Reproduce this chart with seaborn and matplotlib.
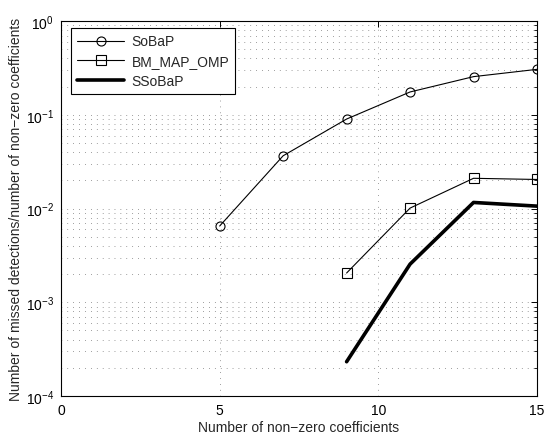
import numpy as np
import matplotlib
matplotlib.use("Agg")
import matplotlib.pyplot as plt
import seaborn as sns
from matplotlib.ticker import LogLocator, FixedLocator

# datos
k_sobap = [5, 7, 9, 11, 13, 15]
sobap = [0.0065, 0.0365, 0.090, 0.175, 0.255, 0.305]

k_bm = [9, 11, 13, 15]
bm_map_omp = [0.00205, 0.0101, 0.0210, 0.0204]

k_ssobap = [9, 11, 13, 15]
ssobap = [0.000232, 0.00255, 0.0116, 0.0106]

x_ticks = [0, 5, 10, 15]

sns.set_style("white")
plt.rcParams['font.family'] = ['Liberation Sans', 'DejaVu Sans']
plt.rcParams['mathtext.fontset'] = 'custom'
plt.rcParams['mathtext.rm'] = 'Liberation Sans'
plt.rcParams['mathtext.it'] = 'Liberation Sans'

fig = plt.figure(figsize=(5.44, 4.35), dpi=100)
ax = fig.add_axes([61 / 544, 1 - 397 / 435, 476 / 544, 375 / 435])

sns.lineplot(x=k_sobap, y=sobap, ax=ax, color='black', lw=0.8, marker='o',
             markersize=6.5, markerfacecolor='none', markeredgecolor='black',
             markeredgewidth=0.8, label='SoBaP')
sns.lineplot(x=k_bm, y=bm_map_omp, ax=ax, color='black', lw=0.8, marker='s',
             markersize=6.5, markerfacecolor='none', markeredgecolor='black',
             markeredgewidth=0.8, label='BM_MAP_OMP')
sns.lineplot(x=k_ssobap, y=ssobap, ax=ax, color='black', lw=2.6,
             label='SSoBaP')

ax.set_yscale('log')
ax.set_xlim(0, 15)
ax.set_ylim(1e-4, 1)
ax.xaxis.set_major_locator(FixedLocator(x_ticks))
ax.yaxis.set_major_locator(LogLocator(base=10, numticks=10))
ax.yaxis.set_minor_locator(LogLocator(base=10, subs=np.arange(2, 10), numticks=10))

dots = (0, (1, 7.5))
ax.grid(True, which='major', axis='both', color='#444444', ls=dots, lw=0.5)
ax.grid(True, which='minor', axis='y', color='#444444', ls=dots, lw=0.5)

ax.tick_params(which='both', direction='in', top=True, right=True,
               labelsize=10, colors='black')
ax.tick_params(which='major', length=4, width=0.7, pad=5)
ax.tick_params(which='minor', length=2, width=0.6)
for s in ax.spines.values():
    s.set_color('black')
    s.set_linewidth(0.8)

ax.set_xlabel('Number of non\u2212zero coefficients', fontsize=10, labelpad=2)
ax.set_ylabel('Number of missed detections/number of non\u2212zero coefficients',
              fontsize=10, labelpad=2)

leg = ax.legend(loc='upper left', bbox_to_anchor=(0.021, 0.981), fontsize=10,
                frameon=True, fancybox=False, edgecolor='black',
                framealpha=1, handlelength=3.4, handletextpad=0.5,
                borderpad=0.45, labelspacing=0.42, borderaxespad=0)
leg.get_frame().set_linewidth(0.8)

plt.savefig('out.png', dpi=100)
plt.close()
